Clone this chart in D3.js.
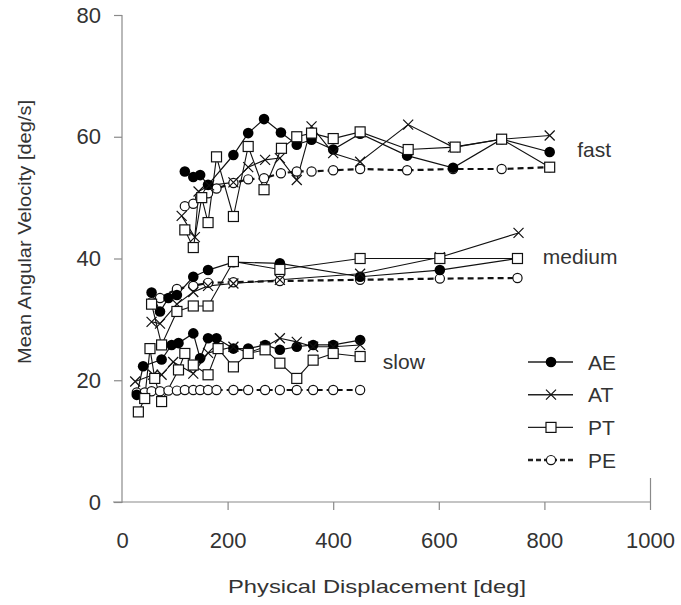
<!DOCTYPE html>
<html><head><meta charset="utf-8">
<script src="https://cdn.jsdelivr.net/npm/d3@7"></script>
<style>body{margin:0;background:#fff}svg{display:block}text{font-family:"Liberation Sans",Arial,sans-serif}</style>
</head><body><svg id="c" width="681" height="605"></svg>
<script>
// ---- data: [physical displacement (deg), mean angular velocity (deg/s)]
const fastAE = [[119,54.3],[135,53.4],[148,53.7],[163,52.1],[211,57.0],[239,60.6],[269,62.9],[301,60.7],[331,58.7],[359,59.5],[400,57.9],[451,60.5],[540,56.9],[627,54.9],[719,59.6],[810,57.5]];
const fastAT = [[113,47.0],[138,43.5],[145,51.0],[165,52.0],[211,52.5],[239,55.0],[271,56.2],[299,56.5],[331,52.9],[359,61.7],[400,57.3],[451,55.9],[542,62.0],[627,58.3],[719,59.6],[810,60.2]];
const fastPT = [[119,44.7],[135,41.8],[151,50.0],[163,45.9],[179,56.7],[211,46.9],[239,58.4],[269,51.3],[302,58.1],[331,60.0],[359,60.6],[400,59.7],[451,60.8],[542,57.9],[631,58.3],[719,59.6],[810,55.0]];
const fastPE = [[119,48.6],[135,49.0],[148,50.0],[163,50.7],[179,51.5],[211,52.4],[239,53.0],[269,53.2],[301,54.0],[331,54.3],[359,54.3],[400,54.5],[451,54.7],[540,54.5],[627,54.7],[719,54.7],[810,55.0]];

const medAE = [[56,34.4],[72,31.3],[88,33.5],[104,34.0],[135,37.0],[163,38.1],[211,39.4],[299,39.2],[451,37.0],[602,38.1],[749,40.0]];
const medAT = [[56,29.6],[72,29.3],[104,32.5],[135,34.5],[163,35.5],[211,35.9],[299,36.5],[451,37.5],[602,40.2],[751,44.2]];
const medPT = [[56,32.5],[75,25.8],[104,31.3],[135,32.2],[163,32.2],[211,39.5],[299,38.2],[451,40.0],[602,40.0],[749,40.0]];
const medPE = [[56,32.8],[72,33.5],[104,35.0],[135,35.5],[163,36.0],[211,36.1],[299,36.3],[451,36.5],[602,36.7],[749,36.8]];

const slowAE = [[28,17.6],[40,22.3],[75,23.4],[94,25.8],[107,26.1],[135,27.7],[148,23.6],[163,26.9],[179,26.9],[211,25.2],[239,25.2],[271,25.8],[299,25.0],[331,25.5],[362,25.8],[400,25.8],[451,26.6]];
const slowAT = [[25,19.8],[59,20.9],[75,20.9],[97,23.0],[135,21.1],[163,24.5],[211,25.5],[239,24.5],[271,25.5],[299,26.9],[331,26.3],[362,25.5],[400,25.5],[451,25.8]];
const slowPT = [[31,14.8],[43,17.0],[53,25.2],[62,20.3],[75,16.5],[107,21.7],[119,24.4],[135,22.5],[163,20.9],[182,25.2],[211,22.2],[239,24.4],[271,25.0],[299,22.8],[331,20.3],[362,23.3],[400,24.4],[451,23.9]];
const slowPE = [[28,18.0],[43,18.0],[56,18.2],[72,18.2],[88,18.3],[104,18.3],[119,18.4],[135,18.4],[148,18.4],[163,18.4],[179,18.4],[211,18.4],[239,18.4],[271,18.4],[299,18.4],[331,18.4],[362,18.4],[400,18.4],[451,18.4]];

const xTicks = [0,200,400,600,800,1000];
const yTicks = [0,20,40,60,80];
const seriesNames = ["AE","AT","PT","PE"];
const speedLabels = [["fast",862,57.8],["medium",797,40.2],["slow",494,23.0]];
const xTitle = "Physical Displacement [deg]";
const yTitle = "Mean Angular Velocity [deg/s]";

// ---- drawing
const svg = d3.select("#c");
const x = d3.scaleLinear().domain([0,1000]).range([122,650]);
const y = d3.scaleLinear().domain([0,80]).range([502,15]);
const axisCol = "#8a8a8a", textCol = "#333";
const fontFam = "'Liberation Sans',Arial,sans-serif";

const gx = svg.append("g").attr("transform","translate(0,502)")
  .call(d3.axisBottom(x).tickValues(xTicks).tickFormat(d3.format("d")).tickSize(8).tickSizeOuter(0).tickPadding(22));
const gy = svg.append("g").attr("transform","translate(122,0)")
  .call(d3.axisLeft(y).tickValues(yTicks).tickFormat(d3.format("d")).tickSize(8).tickSizeOuter(0).tickPadding(13));
[gx,gy].forEach(g=>{
  g.selectAll("path,line").attr("stroke",axisCol).attr("stroke-width",1.2);
  g.selectAll("text").attr("fill",textCol).style("font-size","22px").style("font-family",fontFam);
});
gy.select(".domain").attr("d","M0,"+(y(0)+1)+"V"+y(80));
gx.select(".domain").attr("d","M"+(x(0)-9)+",0H"+x(1000));
gx.selectAll(".tick").filter(d=>d===0).select("line").remove();
gx.selectAll(".tick").filter(d=>d===1000).select("line").attr("y1",-24);

svg.append("text").attr("x",377).attr("y",593).attr("text-anchor","middle")
  .attr("fill",textCol).style("font-size","19px").attr("textLength",298).attr("lengthAdjust","spacingAndGlyphs").text(xTitle);
svg.append("text").attr("transform","translate(31,232) rotate(-90)").attr("text-anchor","middle")
  .attr("fill",textCol).style("font-size","18px").attr("textLength",264).attr("lengthAdjust","spacingAndGlyphs").text(yTitle);

const line = d3.line().x(d=>x(d[0])).y(d=>y(d[1]));
const groups = {
  AE:[fastAE,medAE,slowAE], AT:[fastAT,medAT,slowAT],
  PT:[fastPT,medPT,slowPT], PE:[fastPE,medPE,slowPE]
};
const lineStyle = {
  AE:{w:1.2,dash:null}, AT:{w:1.1,dash:null}, PT:{w:1.1,dash:null}, PE:{w:2.2,dash:"6,4"}
};
function marker(g, type, cx, cy){
  if(type==="AE") g.append("circle").attr("cx",cx).attr("cy",cy).attr("r",5.3).attr("fill","#000");
  else if(type==="PT") g.append("rect").attr("x",cx-5).attr("y",cy-5).attr("width",10).attr("height",10)
      .attr("fill","#fff").attr("stroke","#111").attr("stroke-width",1.2);
  else if(type==="PE") g.append("circle").attr("cx",cx).attr("cy",cy).attr("r",4.6)
      .attr("fill","#fff").attr("stroke","#111").attr("stroke-width",1.2);
  else if(type==="AT") g.append("path").attr("d",`M${cx-5},${cy-5}L${cx+5},${cy+5}M${cx-5},${cy+5}L${cx+5},${cy-5}`)
      .attr("stroke","#111").attr("stroke-width",1.2).attr("fill","none");
}
const order = ["PE","AE","AT","PT"];
order.forEach(k=>{
  const g = svg.append("g");
  groups[k].forEach(data=>{
    g.append("path").datum(data).attr("d",line).attr("fill","none").attr("stroke","#111")
      .attr("stroke-width",lineStyle[k].w).attr("stroke-dasharray",lineStyle[k].dash);
  });
});
order.forEach(k=>{
  const g = svg.append("g");
  groups[k].forEach(data=>data.forEach(d=>marker(g,k,x(d[0]),y(d[1]))));
});

speedLabels.forEach(([t,dx,v])=>{
  svg.append("text").attr("x",x(dx)).attr("y",y(v)+7).attr("fill",textCol).style("font-size","21px").text(t);
});

// legend
const lg = svg.append("g");
seriesNames.forEach((k,i)=>{
  const ly = 362 + i*32.7;
  lg.append("line").attr("x1",528).attr("x2",573).attr("y1",ly).attr("y2",ly).attr("stroke","#222")
    .attr("stroke-width",lineStyle[k].w+0.3).attr("stroke-dasharray",k==="PE"?"5,3":null);
  marker(lg,k,551,ly);
  lg.append("text").attr("x",588).attr("y",ly+7.5).attr("fill",textCol).style("font-size","21px").text(k);
});
</script></body></html>
